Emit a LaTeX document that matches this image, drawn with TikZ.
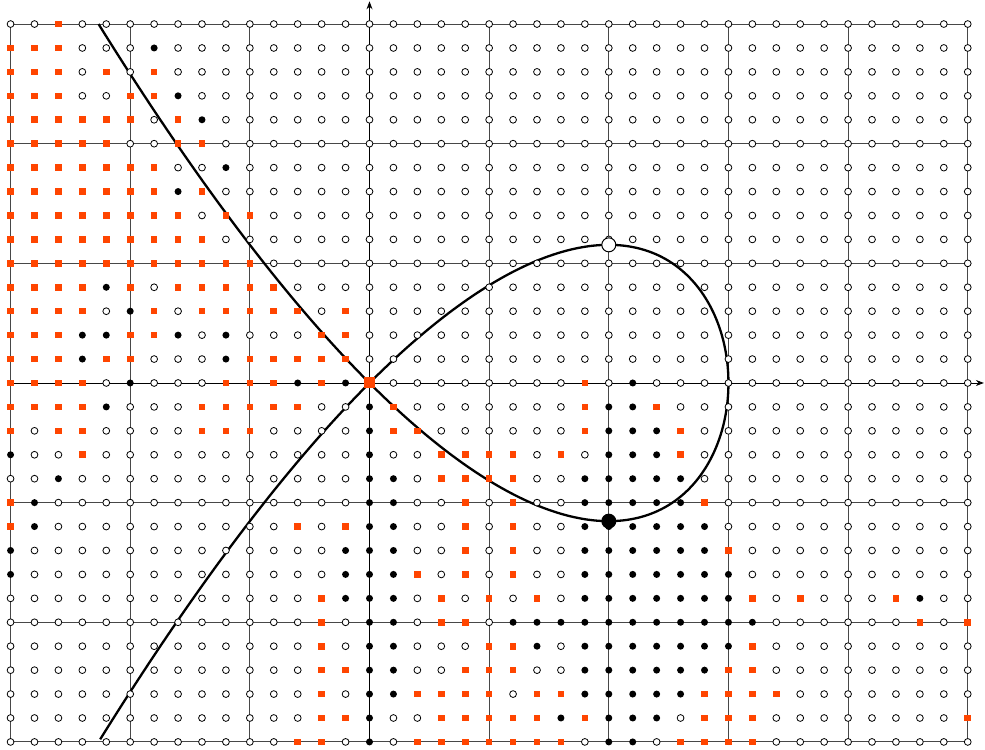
\documentclass[tikz,border=0pt]{standalone}
\usetikzlibrary{arrows.meta}
\definecolor{dotred}{RGB}{255,69,0}
\tikzset{
  gridline/.style={black!72, line width=0.9pt},
  axisline/.style={black, line width=0.9pt, -{Stealth[length=8pt,width=6pt]}},
  curveline/.style={black, line width=2.3pt},
  wdot/.style={draw=black, fill=white, line width=0.8pt},
  bdot/.style={fill=black},
  rdot/.style={fill=dotred},
}
\def\dotrow#1#2{\def\dgrow{#1}\def\dgcol{0}\dotparse#2\relax}
\def\dotparse#1{\ifx#1\relax\else\dotone#1\expandafter\dotparse\fi}
\def\dotone#1{%
  \pgfmathsetmacro\dgpx{-3+0.2*\dgcol}%
  \pgfmathsetmacro\dgpy{3-0.2*\dgrow}%
  \if#1O\path[wdot] (\dgpx,\dgpy) circle[radius=3.4pt];\fi
  \if#1B\path[bdot] (\dgpx,\dgpy) circle[radius=3.5pt];\fi
  \if#1R\path[rdot] (\dgpx,\dgpy) ++(-3.3pt,-3.3pt) rectangle ++(6.6pt,6.6pt);\fi
  \pgfmathtruncatemacro\dgcol{\dgcol+1}%
}
\begin{document}
\begin{tikzpicture}[x=119.65pt,y=119.65pt]
\useasboundingbox (-3.0883,-3.0673) rectangle (5.1442,3.2010);
\foreach \gx in {-3,...,5} \draw[gridline] (\gx,-3) -- (\gx,3);
\foreach \gy in {-3,...,3} \draw[gridline] (-3,\gy) -- (5,\gy);
\coordinate (xstart) at (-3,0);
\coordinate (xend) at (5.135,0);
\coordinate (ystart) at (0,-3);
\coordinate (yend) at (0,3.19);
\draw[axisline] (xstart) -- (xend);
\draw[axisline] (ystart) -- (yend);
\draw[curveline] plot[domain=-1.3247:1.3247, samples=241, smooth, variable=\m] ({3-3*\m*\m},{3*\m-3*\m*\m*\m});
\dotrow{0}{OOROO OOOOO OOOOO OOOOO OOOOO OOOOO OOOOO OOOOO O}
\dotrow{1}{RRROO OBOOO OOOOO OOOOO OOOOO OOOOO OOOOO OOOOO O}
\dotrow{2}{RRROR OROOO OOOOO OOOOO OOOOO OOOOO OOOOO OOOOO O}
\dotrow{3}{RRROO RRBOO OOOOO OOOOO OOOOO OOOOO OOOOO OOOOO O}
\dotrow{4}{RRRRR RORBO OOOOO OOOOO OOOOO OOOOO OOOOO OOOOO O}
\dotrow{5}{RRRRR OORRO OOOOO OOOOO OOOOO OOOOO OOOOO OOOOO O}
\dotrow{6}{RRRRR RROOB OOOOO OOOOO OOOOO OOOOO OOOOO OOOOO O}
\dotrow{7}{RRRRR RRBRO OOOOO OOOOO OOOOO OOOOO OOOOO OOOOO O}
\dotrow{8}{RRRRR RRROR ROOOO OOOOO OOOOO OOOOO OOOOO OOOOO O}
\dotrow{9}{RRRRR RRRRO OOOOO OOOOO OOOOO OOOOO OOOOO OOOOO O}
\dotrow{10}{RRRRR RRRRR ROOOO OOOOO OOOOO OOOOO OOOOO OOOOO O}
\dotrow{11}{RRRRB RORRR RROOO OOOOO OOOOO OOOOO OOOOO OOOOO O}
\dotrow{12}{RRRRO BRORR RRROR OOOOO OOOOO OOOOO OOOOO OOOOO O}
\dotrow{13}{RRRBB RRBOB OOORR OOOOO OOOOO OOOOO OOOOO OOOOO O}
\dotrow{14}{RRRBR ROOOB RRRRR OOOOO OOOOO OOOOO OOOOO OOOOO O}
\dotrow{15}{RRRRO BOOOR RRBRB ROOOO OOOOR OBOOO OOOOO OOOOO O}
\dotrow{16}{RRRRB OOORR RRROO BROOO OOOOR BBROO OOOOO OOOOO O}
\dotrow{17}{RORRO OOORR ROOOO BRROO OOOOR BBBRO OOOOO OOOOO O}
\dotrow{18}{BOORO OOOOO OOOOO BOORR RRORO BBBRO OOOOO OOOOO O}
\dotrow{19}{OOBOO OOOOO OOOOO BBORR RROOB BBBBO OOOOO OOOOO O}
\dotrow{20}{RBOOO OOOOO OOOOO BBOOR OROOB BBBBR OOOOO OOOOO O}
\dotrow{21}{RBOOO OOOOO OOROR BBOOR OROOB BBBBB OOOOO OOOOO O}
\dotrow{22}{BOOOO OOOOO OOOOB BBOOR OROOB BBBBB ROOOO OOOOO O}
\dotrow{23}{BOOOO OOOOO OOOOB BBROR OROOB BBBBB BOOOO OOOOO O}
\dotrow{24}{OOOOO OOOOO OOORB BBORO ROROB BBBBB BRORO OORBO O}
\dotrow{25}{OOOOO OOOOO OOORO BBORR OBBBB BBBBB BBOOO OOORO R}
\dotrow{26}{OOOOO OOOOO OOORO BBOOO RRBOB BBBBB BROOO OOOOO O}
\dotrow{27}{OOOOO OOOOO OOORR BBOOR RROOB BBBBB RROOO OOOOO O}
\dotrow{28}{OOOOO OOOOO OOORO BBRRR RORRB BBBBR RRROO OOOOO O}
\dotrow{29}{OOOOO OOOOO OOORR BOORR RRRBR BBBOR RROOO OOOOO R}
\dotrow{30}{OOOOO OOOOO OORRO BORRR RRRRO BBORR RROOO OOOOO O}
\coordinate (loopTop) at (2,1.1547);
\coordinate (loopBot) at (2,-1.1547);
\coordinate (nodePt) at (0,0);
\draw[wdot, line width=1pt] (loopTop) circle[radius=7pt];
\fill[black] (loopBot) circle[radius=7.5pt];
\fill[dotred] (nodePt) ++(-5.5pt,-5.5pt) rectangle ++(11pt,11pt);
\end{tikzpicture}
\end{document}
